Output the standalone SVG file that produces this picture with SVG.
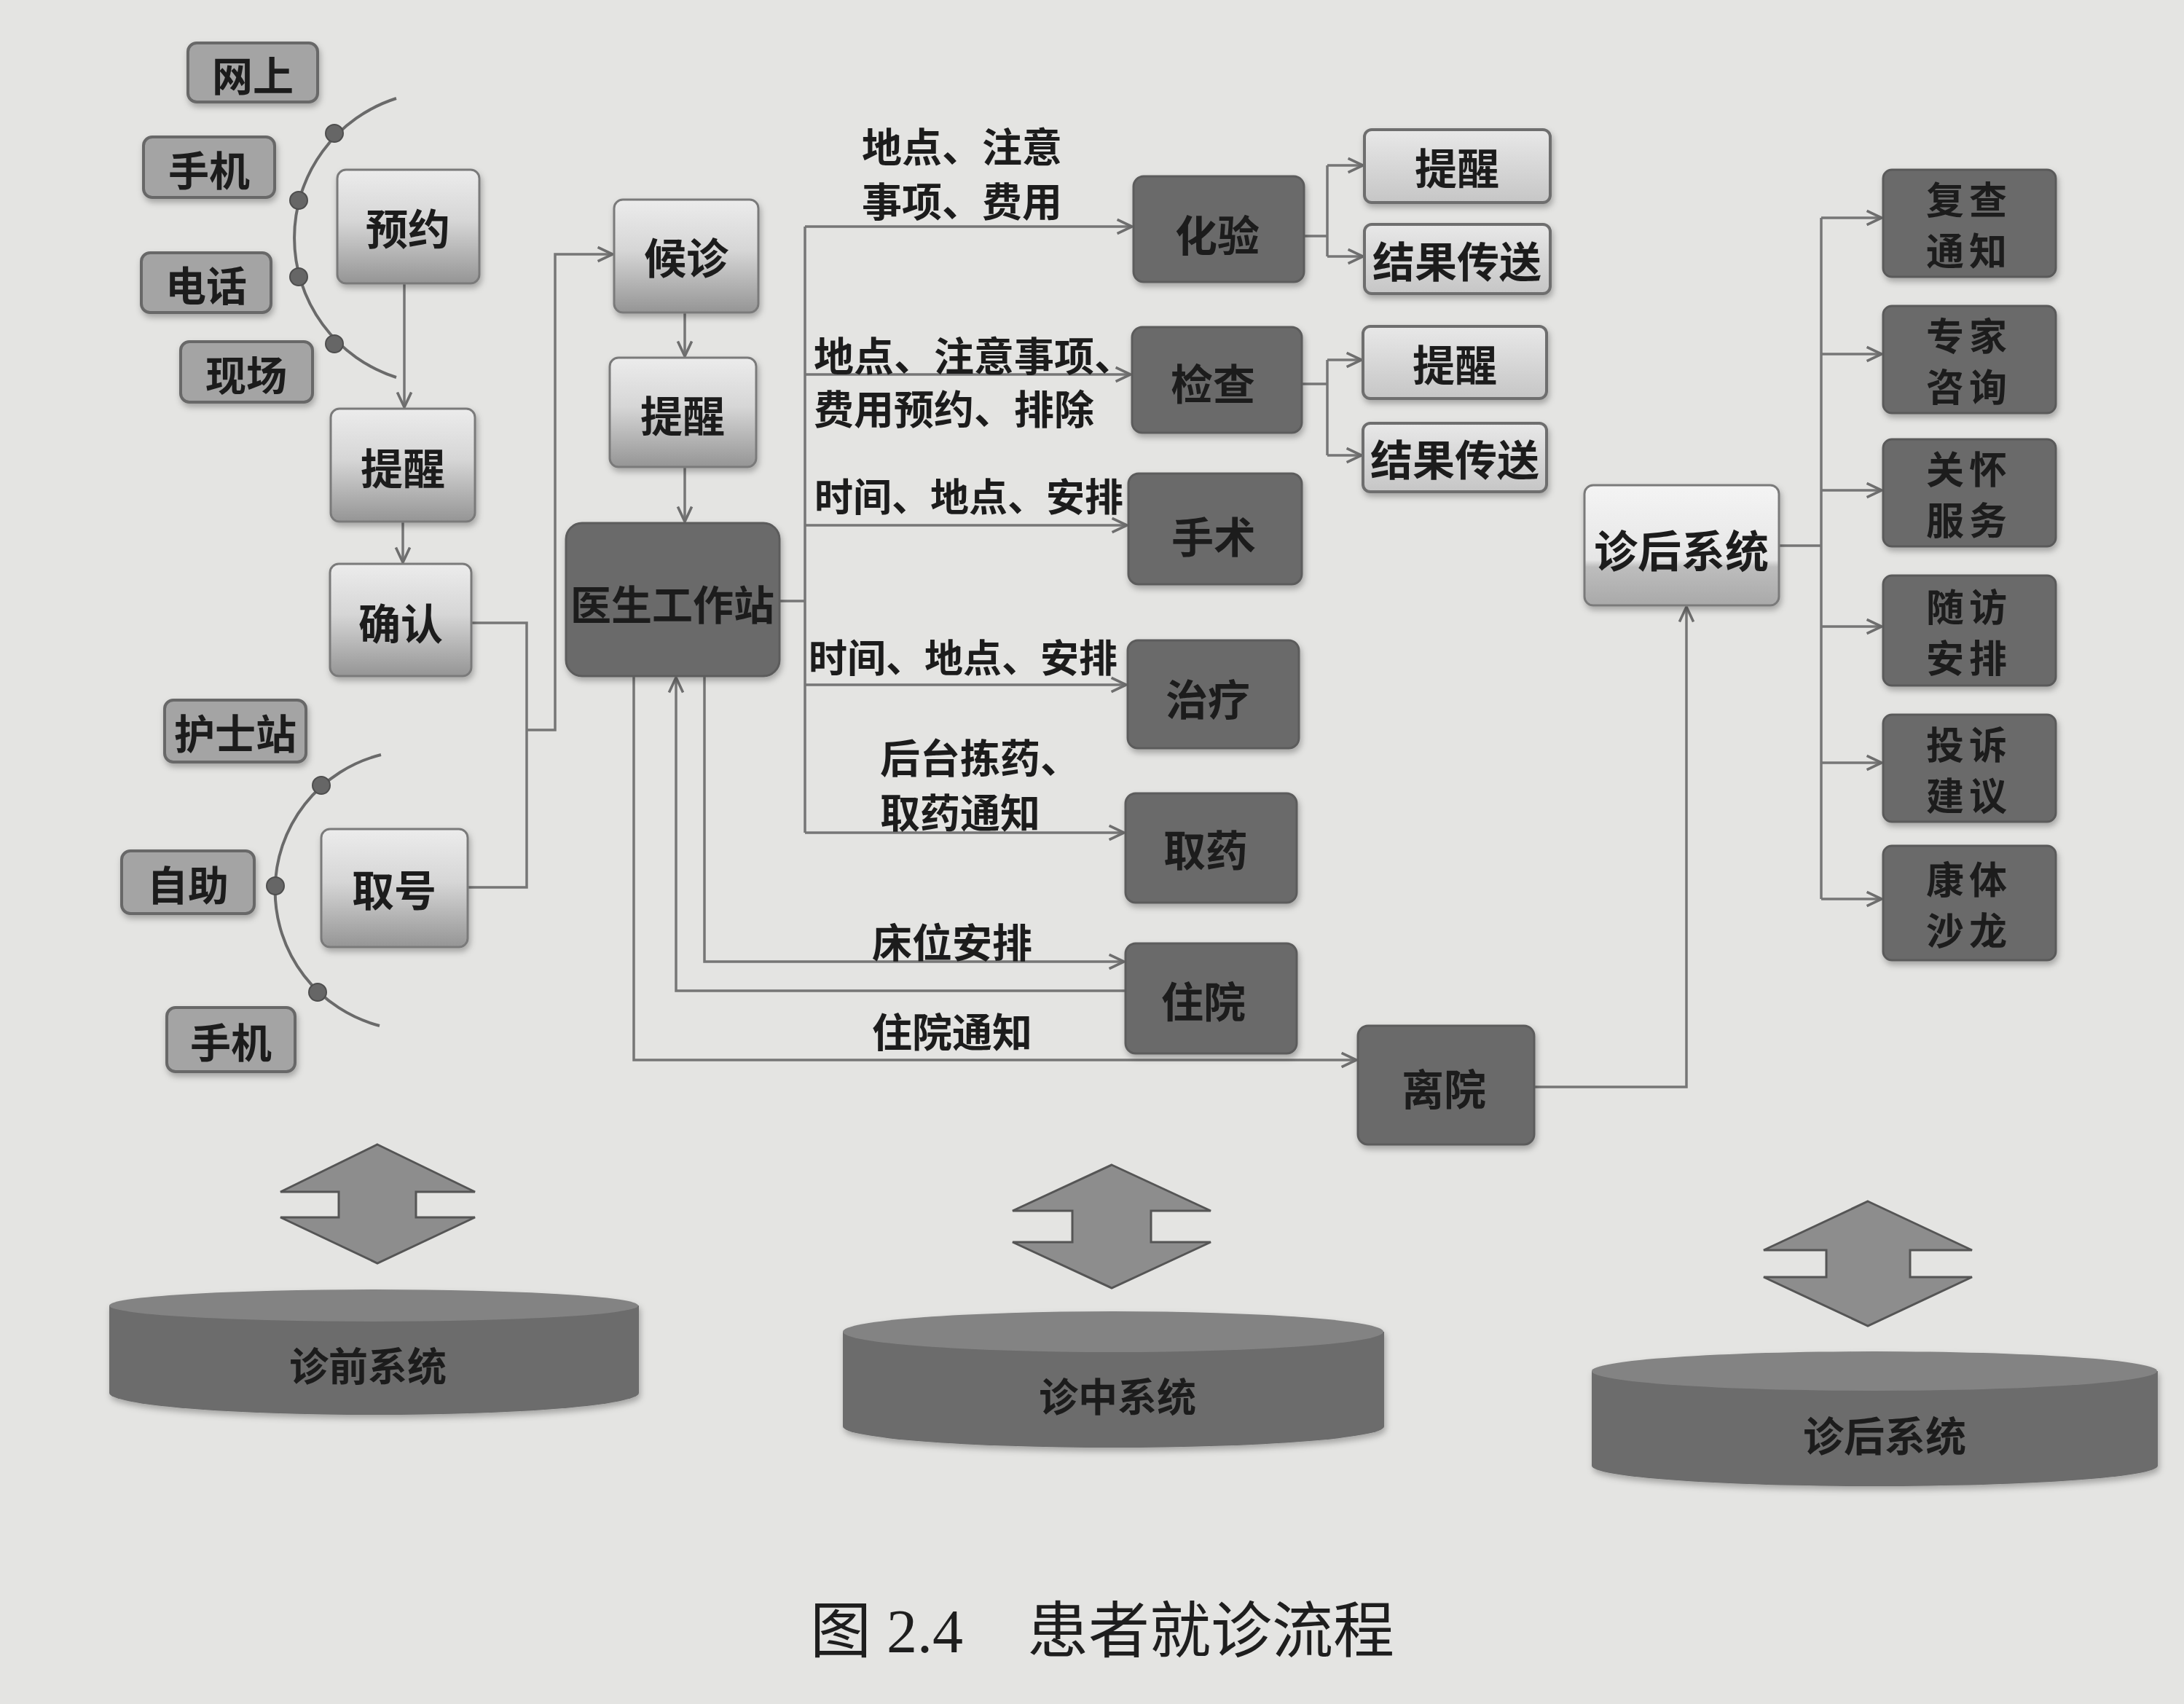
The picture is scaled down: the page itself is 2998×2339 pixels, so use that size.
<svg xmlns="http://www.w3.org/2000/svg" width="2998" height="2339" viewBox="0 0 2998 2339">
<defs>
<style>
.t{font-family:"Noto Sans CJK SC","Noto Sans",sans-serif;font-weight:700;fill:#1c1c1c;text-anchor:middle;dominant-baseline:central}
.lab{font-family:"Noto Sans CJK SC","Noto Sans",sans-serif;font-weight:700;fill:#1c1c1c;font-size:55px;dominant-baseline:central}
.side rect{fill:#a4a4a4;stroke:#686868;stroke-width:4}
.lt rect{fill:url(#lg);stroke:#7a7a7a;stroke-width:3}
.dk rect{fill:#6b6b6b;stroke:#5c5c5c;stroke-width:3}
.rm rect{fill:url(#lg2);stroke:#6e6e6e;stroke-width:4}
.rs rect{fill:#6b6b6b;stroke:#5a5a5a;stroke-width:3}
.conn path{fill:none;stroke:#767676;stroke-width:3.5}
.arc{fill:none;stroke:#6a6a6a;stroke-width:4}
.dot{fill:#666;stroke:#4e4e4e;stroke-width:2}
.dbl{fill:#8d8d8d;stroke:#555;stroke-width:3;stroke-linejoin:miter}
.cyl-body{fill:#6c6c6c}
.cyl-top{fill:#838383}
</style>
<linearGradient id="lg" x1="0" y1="0" x2="0" y2="1">
<stop offset="0" stop-color="#ececec"/>
<stop offset="0.45" stop-color="#d6d6d6"/>
<stop offset="1" stop-color="#959595"/>
</linearGradient>
<linearGradient id="lg2" x1="0" y1="0" x2="0" y2="1">
<stop offset="0" stop-color="#e8e8e8"/>
<stop offset="1" stop-color="#c6c6c6"/>
</linearGradient>
<linearGradient id="lg3" x1="0" y1="0" x2="0" y2="1">
<stop offset="0" stop-color="#f4f4f4"/>
<stop offset="0.62" stop-color="#e6e6e6"/>
<stop offset="0.68" stop-color="#bdbdbd"/>
<stop offset="1" stop-color="#a9a9a9"/>
</linearGradient>
<filter id="sh" x="-10%" y="-10%" width="125%" height="130%">
<feDropShadow dx="2" dy="5" stdDeviation="4" flood-color="#000" flood-opacity="0.28"/>
</filter>
<marker id="arr" viewBox="0 0 20 20" refX="19" refY="10" markerWidth="24" markerHeight="24" markerUnits="userSpaceOnUse" orient="auto">
<path d="M2,2 L19,10 L2,18" fill="none" stroke="#6e6e6e" stroke-width="3"/>
</marker>
</defs>
<rect x="0" y="0" width="2998" height="2339" fill="#e4e4e2"/>

<!-- arcs -->
<g id="arc-top">
<path class="arc" d="M544,135 A201,201 0 0 0 544,518"/>
<circle class="dot" cx="459" cy="183" r="12"/>
<circle class="dot" cx="410" cy="275" r="12"/>
<circle class="dot" cx="410" cy="380" r="12"/>
<circle class="dot" cx="459" cy="472" r="12"/>
</g>
<g id="arc-bottom">
<path class="arc" d="M523,1036 A192,192 0 0 0 521,1408"/>
<circle class="dot" cx="441" cy="1078" r="12"/>
<circle class="dot" cx="378" cy="1216" r="12"/>
<circle class="dot" cx="436" cy="1362" r="12"/>
</g>

<!-- connectors -->
<g id="connectors" class="conn">
<path d="M555,389 V559" marker-end="url(#arr)"/>
<path d="M553,716 V772" marker-end="url(#arr)"/>
<path d="M940,429 V489" marker-end="url(#arr)"/>
<path d="M940,641 V716" marker-end="url(#arr)"/>
<path d="M647,855 H723 V1218 H642"/>
<path d="M723,1002 H762 V349 H841" marker-end="url(#arr)"/>
<path d="M1070,825 H1105"/>
<path d="M1105,311 V1143"/>
<path d="M1105,311 H1554" marker-end="url(#arr)"/>
<path d="M1105,514 H1552" marker-end="url(#arr)"/>
<path d="M1105,721 H1547" marker-end="url(#arr)"/>
<path d="M1105,940 H1546" marker-end="url(#arr)"/>
<path d="M1105,1143 H1543" marker-end="url(#arr)"/>
<path d="M967,928 V1320 H1543" marker-end="url(#arr)"/>
<path d="M1545,1360 H928 V930" marker-end="url(#arr)"/>
<path d="M870,928 V1455 H1862" marker-end="url(#arr)"/>
<path d="M1790,324 H1822"/>
<path d="M1822,227 V352"/>
<path d="M1822,227 H1871" marker-end="url(#arr)"/>
<path d="M1822,352 H1871" marker-end="url(#arr)"/>
<path d="M1787,527 H1822"/>
<path d="M1822,494 V625"/>
<path d="M1822,494 H1869" marker-end="url(#arr)"/>
<path d="M1822,625 H1869" marker-end="url(#arr)"/>
<path d="M2106,1492 H2315 V833" marker-end="url(#arr)"/>
<path d="M2442,749 H2500"/>
<path d="M2500,299 V1234"/>
<path d="M2500,299 H2583" marker-end="url(#arr)"/>
<path d="M2500,486 H2583" marker-end="url(#arr)"/>
<path d="M2500,673 H2583" marker-end="url(#arr)"/>
<path d="M2500,860 H2583" marker-end="url(#arr)"/>
<path d="M2500,1047 H2583" marker-end="url(#arr)"/>
<path d="M2500,1234 H2583" marker-end="url(#arr)"/>
</g>

<!-- connector labels -->
<g id="labels">
<text class="lab"><tspan x="1183" y="198">地点、注意</tspan><tspan x="1183" y="273">事项、费用</tspan></text>
<text class="lab"><tspan x="1117" y="485">地点、注意事项、</tspan><tspan x="1117" y="558">费用预约、排除</tspan></text>
<text class="lab" x="1118" y="679" style="font-size:53px">时间、地点、安排</text>
<text class="lab" x="1110" y="900" style="font-size:53px">时间、地点、安排</text>
<text class="lab"><tspan x="1208" y="1037">后台拣药、</tspan><tspan x="1208" y="1112">取药通知</tspan></text>
<text class="lab" x="1197" y="1290">床位安排</text>
<text class="lab" x="1197" y="1413">住院通知</text>
</g>

<!-- side boxes -->
<g id="n-wangshang" class="side" filter="url(#sh)"><rect x="258" y="59" width="178" height="81" rx="12"/><text class="t" x="347" y="100" font-size="56">网上</text></g>
<g id="n-shouji1" class="side" filter="url(#sh)"><rect x="197" y="188" width="180" height="83" rx="12"/><text class="t" x="287" y="230" font-size="56">手机</text></g>
<g id="n-dianhua" class="side" filter="url(#sh)"><rect x="194" y="347" width="178" height="82" rx="12"/><text class="t" x="283" y="388" font-size="56">电话</text></g>
<g id="n-xianchang" class="side" filter="url(#sh)"><rect x="248" y="469" width="181" height="83" rx="12"/><text class="t" x="338" y="511" font-size="56">现场</text></g>
<g id="n-hushizhan" class="side" filter="url(#sh)"><rect x="226" y="961" width="194" height="85" rx="12"/><text class="t" x="323" y="1003" font-size="56">护士站</text></g>
<g id="n-zizhu" class="side" filter="url(#sh)"><rect x="167" y="1168" width="182" height="86" rx="12"/><text class="t" x="258" y="1211" font-size="56">自助</text></g>
<g id="n-shouji2" class="side" filter="url(#sh)"><rect x="229" y="1383" width="176" height="88" rx="12"/><text class="t" x="317" y="1427" font-size="56">手机</text></g>

<!-- light nodes -->
<g id="n-yuyue" class="lt" filter="url(#sh)"><rect x="463" y="233" width="195" height="156" rx="12"/><text class="t" x="560" y="311" font-size="58">预约</text></g>
<g id="n-tixing1" class="lt" filter="url(#sh)"><rect x="454" y="561" width="198" height="155" rx="12"/><text class="t" x="553" y="640" font-size="58">提醒</text></g>
<g id="n-queren" class="lt" filter="url(#sh)"><rect x="453" y="774" width="194" height="154" rx="12"/><text class="t" x="550" y="853" font-size="58">确认</text></g>
<g id="n-houzhen" class="lt" filter="url(#sh)"><rect x="843" y="274" width="198" height="155" rx="12"/><text class="t" x="942" y="351" font-size="58">候诊</text></g>
<g id="n-tixing2" class="lt" filter="url(#sh)"><rect x="837" y="491" width="201" height="150" rx="12"/><text class="t" x="937" y="568" font-size="58">提醒</text></g>
<g id="n-quhao" class="lt" filter="url(#sh)"><rect x="441" y="1138" width="201" height="162" rx="12"/><text class="t" x="541" y="1219" font-size="58">取号</text></g>

<!-- dark nodes -->
<g id="n-yisheng" class="dk" filter="url(#sh)"><rect x="777" y="718" width="293" height="210" rx="22"/><text class="t" x="923" y="826" font-size="56">医生工作站</text></g>
<g id="n-huayan" class="dk" filter="url(#sh)"><rect x="1556" y="242" width="234" height="145" rx="14"/><text class="t" x="1671" y="320" font-size="58">化验</text></g>
<g id="n-jiancha" class="dk" filter="url(#sh)"><rect x="1554" y="449" width="233" height="145" rx="14"/><text class="t" x="1665" y="524" font-size="58">检查</text></g>
<g id="n-shoushu" class="dk" filter="url(#sh)"><rect x="1549" y="650" width="238" height="152" rx="14"/><text class="t" x="1666" y="734" font-size="58">手术</text></g>
<g id="n-zhiliao" class="dk" filter="url(#sh)"><rect x="1548" y="879" width="235" height="148" rx="14"/><text class="t" x="1658" y="957" font-size="58">治疗</text></g>
<g id="n-quyao" class="dk" filter="url(#sh)"><rect x="1545" y="1089" width="235" height="150" rx="14"/><text class="t" x="1655" y="1164" font-size="58">取药</text></g>
<g id="n-zhuyuan" class="dk" filter="url(#sh)"><rect x="1545" y="1295" width="235" height="151" rx="14"/><text class="t" x="1652" y="1372" font-size="58">住院</text></g>
<g id="n-liyuan" class="dk" filter="url(#sh)"><rect x="1864" y="1408" width="242" height="163" rx="14"/><text class="t" x="1982" y="1492" font-size="58">离院</text></g>

<!-- reminder / result boxes -->
<g id="n-tixing3" class="rm" filter="url(#sh)"><rect x="1873" y="178" width="255" height="100" rx="10"/><text class="t" x="2000" y="228" font-size="58">提醒</text></g>
<g id="n-jieguo1" class="rm" filter="url(#sh)"><rect x="1873" y="308" width="255" height="95" rx="10"/><text class="t" x="2000" y="356" font-size="58">结果传送</text></g>
<g id="n-tixing4" class="rm" filter="url(#sh)"><rect x="1871" y="448" width="252" height="99" rx="10"/><text class="t" x="1997" y="498" font-size="58">提醒</text></g>
<g id="n-jieguo2" class="rm" filter="url(#sh)"><rect x="1871" y="581" width="252" height="94" rx="10"/><text class="t" x="1997" y="628" font-size="58">结果传送</text></g>

<!-- post-diagnosis -->
<g id="n-zhenhou" filter="url(#sh)"><rect x="2175" y="666" width="267" height="165" rx="12" fill="url(#lg3)" stroke="#7a7a7a" stroke-width="3"/><text class="t" x="2308" y="752" font-size="60">诊后系统</text></g>

<g id="n-fucha" class="rs" filter="url(#sh)"><rect x="2585" y="233" width="237" height="147" rx="12"/><text class="t" font-size="52" letter-spacing="7"><tspan x="2703" y="271">复查</tspan><tspan x="2703" y="341">通知</tspan></text></g>
<g id="n-zhuanjia" class="rs" filter="url(#sh)"><rect x="2585" y="420" width="237" height="147" rx="12"/><text class="t" font-size="52" letter-spacing="7"><tspan x="2703" y="458">专家</tspan><tspan x="2703" y="528">咨询</tspan></text></g>
<g id="n-guanhuai" class="rs" filter="url(#sh)"><rect x="2585" y="603" width="237" height="147" rx="12"/><text class="t" font-size="52" letter-spacing="7"><tspan x="2703" y="641">关怀</tspan><tspan x="2703" y="711">服务</tspan></text></g>
<g id="n-suifang" class="rs" filter="url(#sh)"><rect x="2585" y="790" width="237" height="151" rx="12"/><text class="t" font-size="52" letter-spacing="7"><tspan x="2703" y="830">随访</tspan><tspan x="2703" y="900">安排</tspan></text></g>
<g id="n-tousu" class="rs" filter="url(#sh)"><rect x="2585" y="981" width="237" height="147" rx="12"/><text class="t" font-size="52" letter-spacing="7"><tspan x="2703" y="1019">投诉</tspan><tspan x="2703" y="1089">建议</tspan></text></g>
<g id="n-kangti" class="rs" filter="url(#sh)"><rect x="2585" y="1161" width="237" height="157" rx="12"/><text class="t" font-size="52" letter-spacing="7"><tspan x="2703" y="1204">康体</tspan><tspan x="2703" y="1274">沙龙</tspan></text></g>

<!-- double arrows -->
<g id="dbl-1"><polygon class="dbl" points="518,1571 652,1636 571,1636 571,1671 652,1671 518,1734 385,1671 465,1671 465,1636 385,1636"/></g>
<g id="dbl-2"><polygon class="dbl" points="1526,1599 1662,1662 1580,1662 1580,1705 1662,1705 1526,1768 1390,1705 1472,1705 1472,1662 1390,1662"/></g>
<g id="dbl-3"><polygon class="dbl" points="2564,1649 2707,1716 2622,1716 2622,1753 2707,1753 2564,1820 2421,1753 2507,1753 2507,1716 2421,1716"/></g>

<!-- cylinders -->
<g id="cyl-1" filter="url(#sh)">
<path class="cyl-body" d="M150,1792 V1912 A363,30 0 0 0 877,1912 V1792 Z"/>
<ellipse class="cyl-top" cx="513" cy="1792" rx="363" ry="22"/>
<text class="t" x="505" y="1872" font-size="54">诊前系统</text>
</g>
<g id="cyl-2" filter="url(#sh)">
<path class="cyl-body" d="M1157,1828 V1958 A371,29 0 0 0 1900,1958 V1828 Z"/>
<ellipse class="cyl-top" cx="1528" cy="1828" rx="371" ry="28"/>
<text class="t" x="1534" y="1914" font-size="54">诊中系统</text>
</g>
<g id="cyl-3" filter="url(#sh)">
<path class="cyl-body" d="M2185,1882 V2012 A388,28 0 0 0 2962,2012 V1882 Z"/>
<ellipse class="cyl-top" cx="2573" cy="1882" rx="388" ry="27"/>
<text class="t" x="2587" y="1967" font-size="56">诊后系统</text>
</g>

<!-- caption -->
<text x="1112" y="2268" font-family="'Liberation Serif','Noto Sans CJK SC',serif" font-size="84" fill="#1e1e1e">图 2.4<tspan x="1410">患者就诊流程</tspan></text>
</svg>
